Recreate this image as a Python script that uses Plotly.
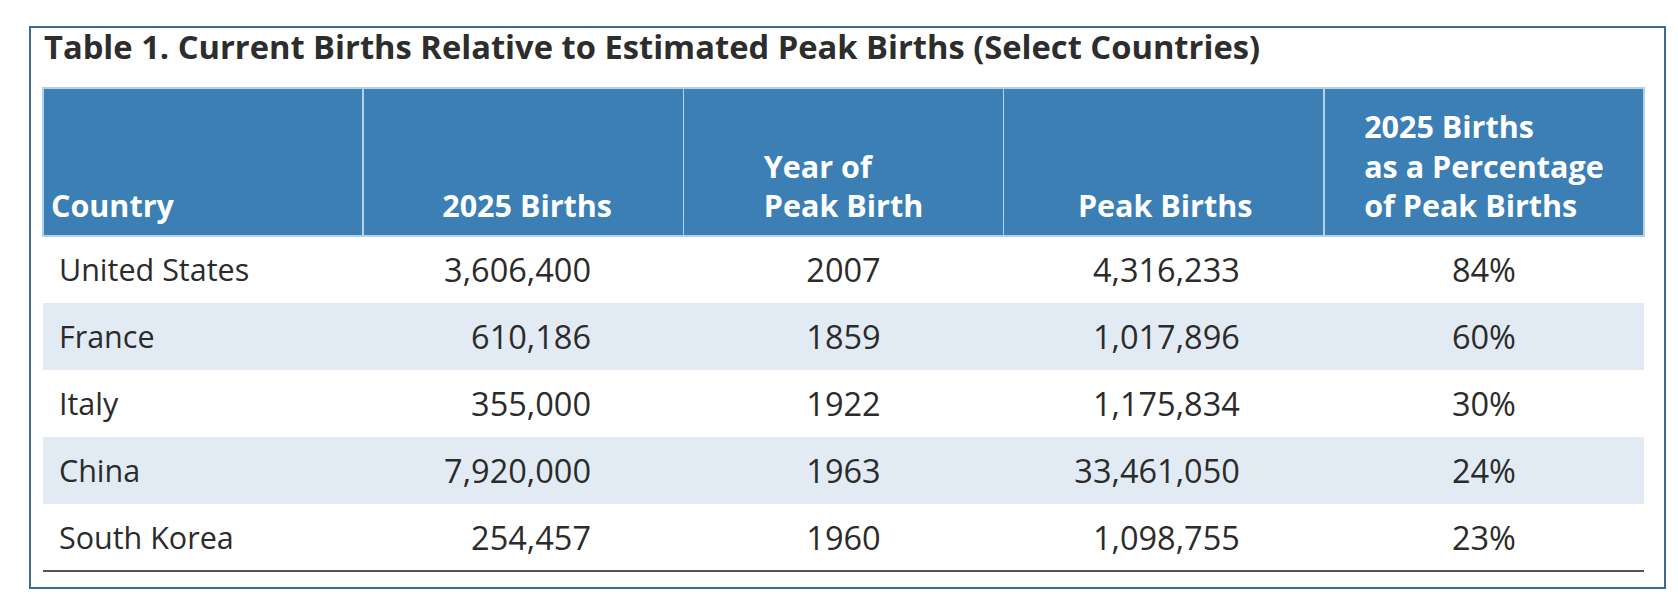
import plotly.graph_objects as go

# Table data
Countries = ["United States", "France", "Italy", "China", "South Korea"]
Births_2025 = [3606400, 610186, 355000, 7920000, 254457]
Peak_Year = [2007, 1859, 1922, 1963, 1960]
Peak_Births = [4316233, 1017896, 1175834, 33461050, 1098755]
Pct_Of_Peak = [84, 60, 30, 24, 23]

nbsp = "\u00a0"

# Header labels (bottom aligned -> pad empty lines with nbsp)
Header_Labels = [
    f"{nbsp}<br>{nbsp}<br>Country"
    ,f"{nbsp}<br>{nbsp}<br>2025 Births"
    ,f"{nbsp}<br>Year of<br>Peak Birth"
    ,f"{nbsp}<br>{nbsp}<br>Peak Births"
    ,"2025 Births<br>as a Percentage<br>of Peak Births"
]

Title_Text = "Table 1. Current Births Relative to Estimated Peak Births (Select Countries)"

# Figure size / colors
W, H = 1678, 600
Header_Color = "#3b7fb4"
Band_Color = "#e2ebf3"
Text_Color = "#2b2b2b"
Frame_Color = "#40698f"

Table_Top = 80
Header_H = 148
Row_H = 67
Col_Align = ["left", "right", "center", "right", "center"]

# Alternating row fills
Row_Fill = ["white" if i % 2 == 0 else Band_Color for i in range(len(Countries))]
Blank_Cells = [[""] * len(Countries) for _ in range(5)]

fig = go.Figure()

# Background table: fills and header dividers
fig.add_trace(go.Table(
    domain=dict(x=[35/W, 1636/W], y=[0, 1 - Table_Top/H])
    ,header=dict(
        values=[""] * 5
        ,fill_color=Header_Color
        ,line=dict(color="#b3d1ea", width=1.5)
        ,height=Header_H
    )
    ,cells=dict(
        values=Blank_Cells
        ,fill_color=[Row_Fill] * 5
        ,line=dict(width=0)
        ,height=Row_H
    )
))

# Text table laid on top (shifted down a bit to center the text in the rows)
Head_Shift = 9
Cell_Shift = 14
fig.add_trace(go.Table(
    domain=dict(x=[35/W, 1636/W], y=[0, 1 - (Table_Top + Head_Shift)/H])
    ,header=dict(
        values=Header_Labels
        ,fill_color="rgba(0,0,0,0)"
        ,line=dict(width=0)
        ,align=Col_Align
        ,suffix=[None, nbsp * 8, None, nbsp * 8, None]
        ,font=dict(family="Open Sans", size=30.5, color="white", weight=700)
        ,height=Header_H + Cell_Shift - Head_Shift
    )
    ,cells=dict(
        values=[
            [nbsp + c for c in Countries]
            ,[f"{v:,}" for v in Births_2025]
            ,Peak_Year
            ,[f"{v:,}" for v in Peak_Births]
            ,[f"{v}%" for v in Pct_Of_Peak]
        ]
        ,fill_color="rgba(0,0,0,0)"
        ,line=dict(width=0)
        ,align=Col_Align
        ,suffix=[None, nbsp * 10, None, nbsp * 9, None]
        ,font=dict(family="Open Sans", size=[30.5, 32.5, 32.5, 32.5, 32.5], color=Text_Color)
        ,height=Row_H
    )
))

# Outer frame and bottom rule
fig.add_shape(type="rect", xref="paper", yref="paper"
    ,x0=22/W, x1=1657/W, y0=1 - 580/H, y1=1 - 19/H
    ,line=dict(color=Frame_Color, width=2))
fig.add_shape(type="line", xref="paper", yref="paper"
    ,x0=35/W, x1=1636/W, y0=1 - 563/H, y1=1 - 563/H
    ,line=dict(color="#555555", width=2))

fig.update_layout(
    width=W
    ,height=H
    ,margin=dict(l=0, r=0, t=0, b=0)
    ,paper_bgcolor="white"
    ,title=dict(
        text=f"<b>{Title_Text}</b>"
        ,x=36/W
        ,xanchor="left"
        ,y=1 - 39.5/H
        ,yanchor="middle"
        ,font=dict(family="Open Sans", size=32.7, color="#2d2d2d")
    )
)

fig.write_html("out.html")
